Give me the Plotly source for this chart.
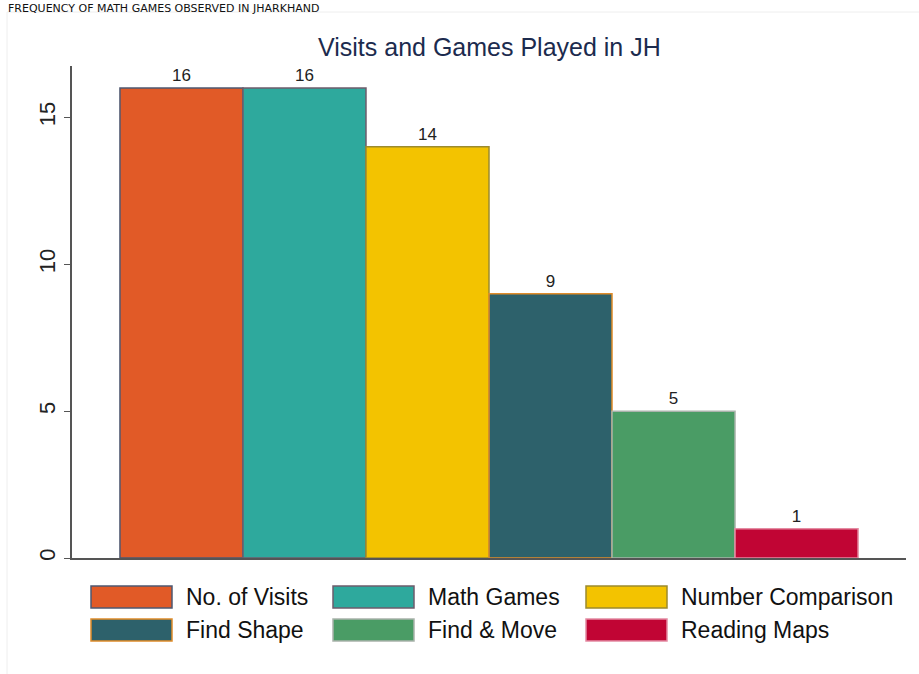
import plotly.graph_objects as go

# Data
categories = ["No. of Visits", "Math Games", "Number Comparison",
              "Find Shape", "Find & Move", "Reading Maps"]
counts = [16, 16, 14, 9, 5, 1]
fill_colors = ["#E15A27", "#2EA99D", "#F3C300", "#2D616B", "#4A9C65", "#C10534"]
line_colors = ["#4E5872", "#6E5C6C", "#9C8B2E", "#E08C2A", "#A9B3AB", "#E48BA2"]
y_ticks = [0, 5, 10, 15]

# Plot area in pixels (figure is 919 x 674)
W, H = 919, 674
L, R, T, B = 72, 906, 66, 558


def px(x):
    return (x - L) / (R - L)


def py(y):
    return (B - y) / (B - T)


fig = go.Figure()
for name, val, fc, lc in zip(categories, counts, fill_colors, line_colors):
    fig.add_trace(go.Bar(
        x=["all"], y=[val], name=name,
        marker=dict(color=fc, line=dict(color=lc, width=1.5)),
        text=[str(val)], textposition="outside",
        textfont=dict(family="Liberation Sans, Arial", size=17, color="#222222"),
        cliponaxis=False, showlegend=False,
    ))

fig.update_layout(
    width=W, height=H,
    margin=dict(l=L, r=W - R, t=T, b=H - B),
    paper_bgcolor="white", plot_bgcolor="white",
    barmode="group", bargap=0.115, bargroupgap=0,
    font=dict(family="Liberation Sans, Arial", color="#222222"),
    xaxis=dict(showticklabels=False, ticks="", showgrid=False, zeroline=False,
               showline=True, linecolor="#555555", linewidth=1.5),
    yaxis=dict(range=[0, 16.75], tickvals=y_ticks, ticks="outside", ticklen=6,
               tickcolor="#555555", tickwidth=1.2, tickangle=-90,
               tickfont=dict(size=22, color="#222222"),
               showgrid=False, zeroline=False,
               showline=True, linecolor="#555555", linewidth=1.5),
)

shapes = []
annotations = []

# Outer frame of the graph region
shapes.append(dict(type="rect", xref="paper", yref="paper",
                   x0=px(7), x1=px(W + 5), y0=py(H + 5), y1=py(12),
                   line=dict(color="#EEEEEE", width=1), fillcolor="rgba(0,0,0,0)",
                   layer="below"))

# Section heading above the graph
annotations.append(dict(
    text="FREQUENCY OF MATH GAMES OBSERVED IN JHARKHAND",
    xref="paper", yref="paper", x=px(6), y=py(0),
    xanchor="left", yanchor="top", showarrow=False,
    font=dict(family="DejaVu Sans, Arial", size=11, color="#111111")))

# Chart title
annotations.append(dict(
    text="Visits and Games Played in JH",
    xref="paper", yref="paper", x=px(489), y=py(47),
    xanchor="center", yanchor="middle", showarrow=False,
    font=dict(family="Liberation Sans, Arial", size=25, color="#1C2B4E")))

# Legend: three columns, two rows
col_x = [91, 333, 586]
row_y = [586, 619]
sw_w, sw_h = 81, 22
for i, (name, fc, lc) in enumerate(zip(categories, fill_colors, line_colors)):
    cx = col_x[i % 3]
    ry = row_y[i // 3]
    shapes.append(dict(type="rect", xref="paper", yref="paper",
                       x0=px(cx), x1=px(cx + sw_w), y0=py(ry + sw_h), y1=py(ry),
                       fillcolor=fc, line=dict(color=lc, width=1.5)))
    annotations.append(dict(
        text=name, xref="paper", yref="paper",
        x=px(cx + sw_w + 12), y=py(ry + sw_h / 2),
        xanchor="left", yanchor="middle", showarrow=False,
        font=dict(family="Liberation Sans, Arial", size=23, color="#111111")))

fig.update_layout(shapes=shapes, annotations=annotations)

fig.write_html("out.html")
